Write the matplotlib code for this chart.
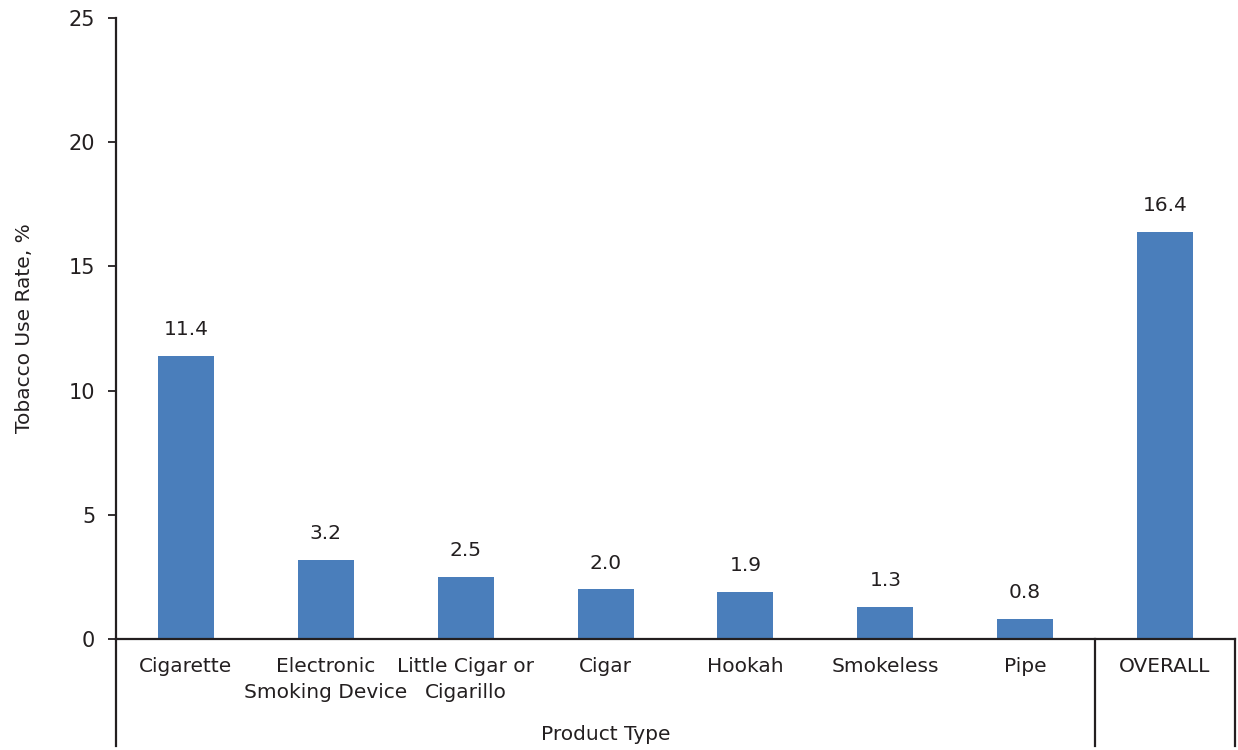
import matplotlib
matplotlib.use("Agg")
import matplotlib.pyplot as plt

# data
categories = ["Cigarette", "Electronic\nSmoking Device", "Little Cigar or\nCigarillo",
              "Cigar", "Hookah", "Smokeless", "Pipe", "OVERALL"]
rates = [11.4, 3.2, 2.5, 2.0, 1.9, 1.3, 0.8, 16.4]

bar_color = "#4a7ebb"
text_color = "#231f20"

plt.rcParams['font.family'] = ['DejaVu Sans']
plt.rcParams['font.size'] = 14.5

fig = plt.figure(figsize=(12.38, 7.5), dpi=100)
ax = fig.add_axes([116 / 1238, 111 / 750, 1119 / 1238, 621 / 750])

x = list(range(len(categories)))
bars = ax.bar(x, rates, width=0.4, color=bar_color, zorder=2)

for xi, v in zip(x, rates):
    ax.annotate(f"{v:.1f}", (xi, v), xytext=(0, 12), textcoords="offset points",
                ha="center", va="bottom", fontsize=14.5, color=text_color)

ax.set_xlim(-0.5, len(categories) - 0.5)
ax.set_ylim(0, 25)
ax.set_yticks([0, 5, 10, 15, 20, 25])
ax.tick_params(axis="y", direction="out", length=6, width=1.3, colors=text_color,
               labelsize=15, pad=9)
ax.set_xticks(x)
ax.set_xticklabels(categories, fontsize=14.5, color=text_color, linespacing=1.45)
ax.tick_params(axis="x", length=0, pad=13)

for s in ["top", "right"]:
    ax.spines[s].set_visible(False)
ax.spines["left"].set_linewidth(1.6)
ax.spines["bottom"].set_linewidth(1.6)
ax.spines["left"].set_color(text_color)
ax.spines["bottom"].set_color(text_color)

# group separator lines below the axis
drop = -107 / 621
trans = ax.get_xaxis_transform()
for xs in [-0.5, 6.5, 7.5]:
    ax.plot([xs, xs], [0, drop], transform=trans, clip_on=False,
            color=text_color, lw=1.6)

ax.text(3, drop + 0.003, "Product Type", transform=trans, ha="center", va="bottom",
        fontsize=14.5, color=text_color)

ax.set_ylabel("Tobacco Use Rate, %", fontsize=14.5, color=text_color, labelpad=25)

fig.savefig("out.png", dpi=100)
